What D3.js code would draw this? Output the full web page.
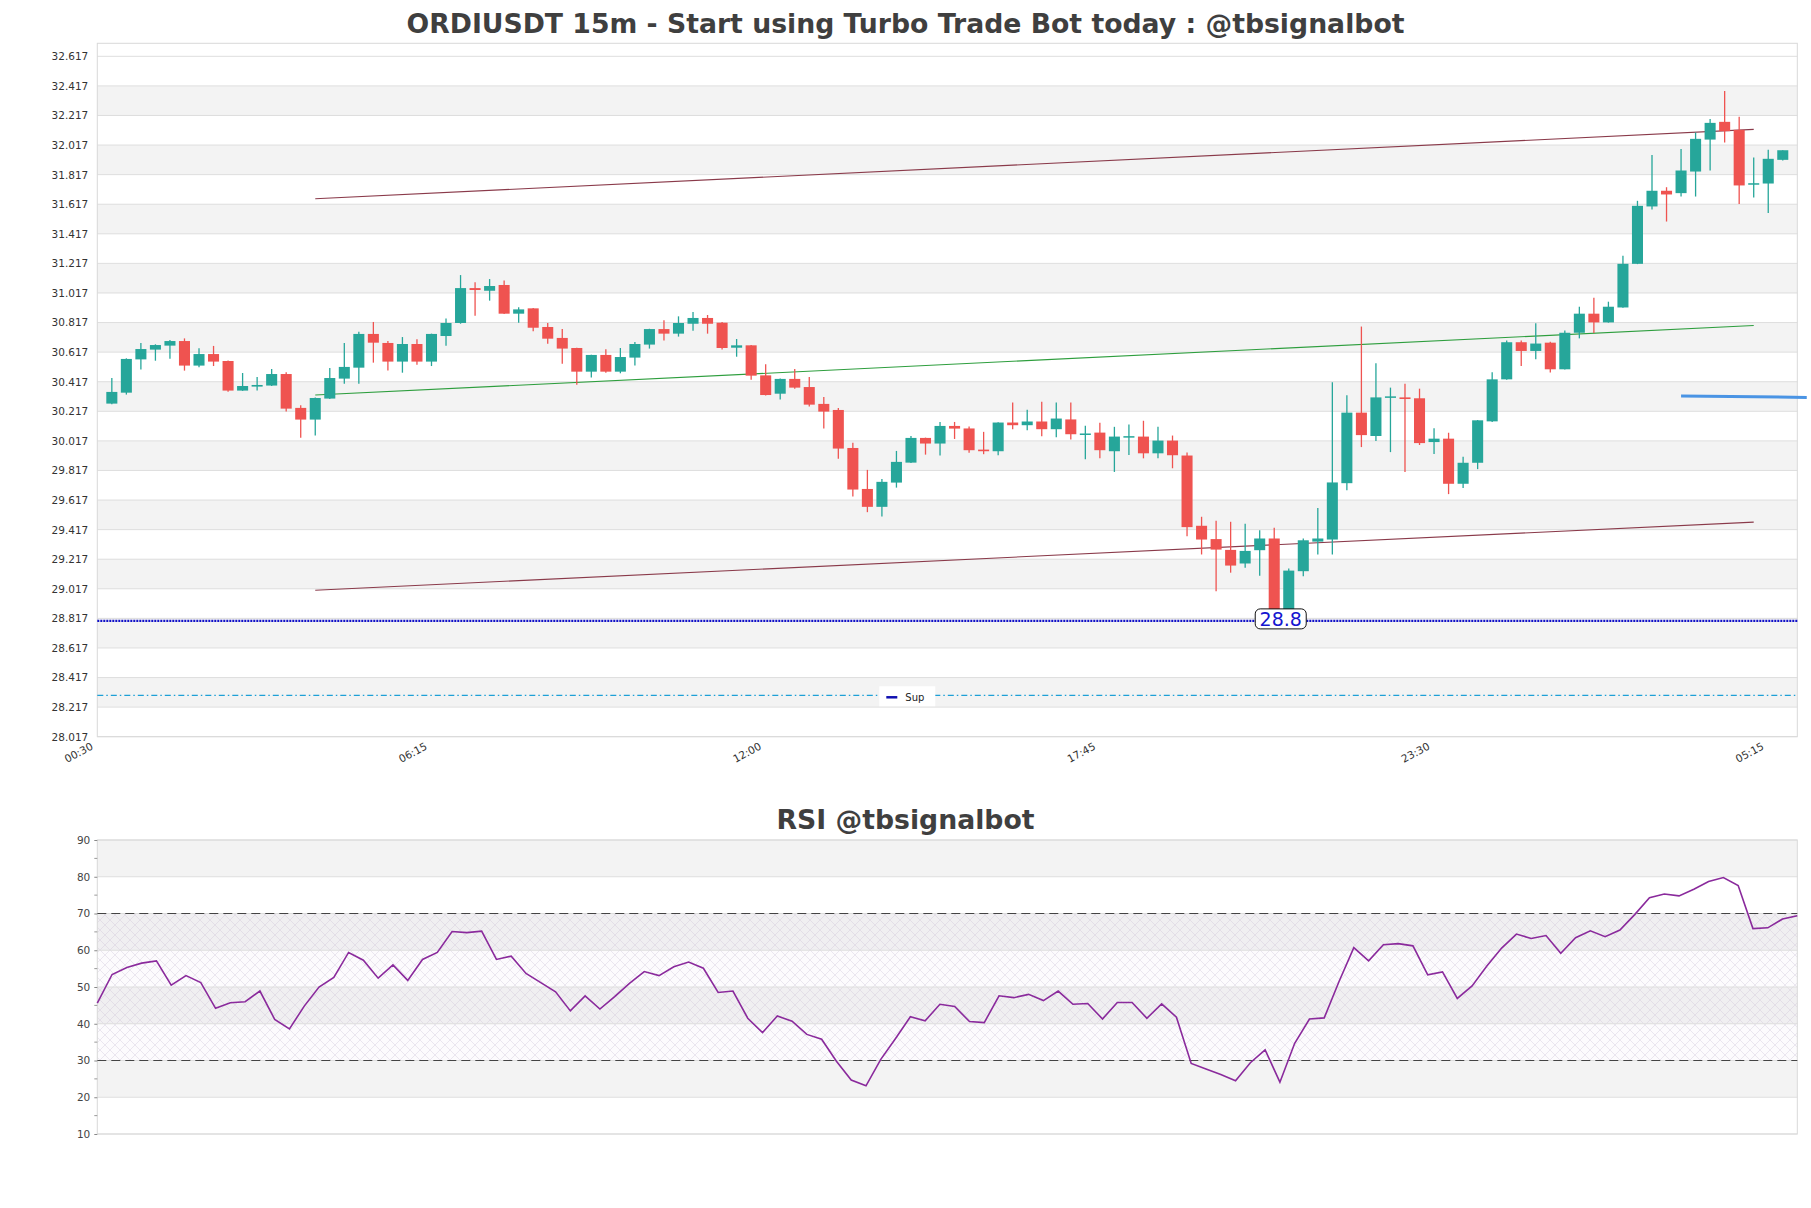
<!DOCTYPE html>
<html><head><meta charset="utf-8">
<script src="https://cdn.jsdelivr.net/npm/d3@7"></script>
<style>
html,body{margin:0;padding:0;background:#fff;}
svg{display:block;}
</style></head>
<body>
<svg id="chart" width="1811" height="1208"></svg>
<script>
// ---------------- DATA ----------------
const startTime = new Date(2024, 0, 1, 0, 45);
const stepMin = 15;
const openP = [30.269,30.343,30.568,30.634,30.661,30.692,30.526,30.604,30.557,30.357,30.384,30.391,30.469,30.240,30.161,30.303,30.438,30.512,30.740,30.679,
30.553,30.672,30.553,30.726,30.814,31.050,31.032,31.071,30.877,30.913,30.787,30.713,30.645,30.485,30.598,30.485,30.580,30.668,30.773,30.742,
30.809,30.848,30.816,30.647,30.663,30.460,30.336,30.436,30.381,30.267,30.226,29.969,29.692,29.571,29.735,29.870,30.037,29.999,30.118,30.101,
29.958,29.947,30.141,30.123,30.148,30.096,30.162,30.062,30.073,29.947,30.040,30.046,29.933,30.019,29.918,29.443,29.353,29.280,29.188,29.278,
29.357,28.860,29.136,29.336,29.350,29.731,30.208,30.050,30.311,30.311,30.305,30.009,30.032,29.727,29.869,30.149,30.433,30.684,30.625,30.681,
30.501,30.748,30.877,30.818,30.919,31.214,31.602,31.708,31.692,31.838,32.054,32.174,32.120,31.750,31.757,31.917];
const highP = [30.442,30.575,30.679,30.670,30.699,30.710,30.643,30.659,30.560,30.476,30.449,30.503,30.481,30.258,30.310,30.510,30.679,30.755,30.821,30.692,
30.719,30.704,30.742,30.845,31.138,31.089,31.111,31.102,30.920,30.915,30.814,30.773,30.647,30.600,30.636,30.645,30.686,30.775,30.832,30.859,
30.888,30.868,30.821,30.706,30.665,30.535,30.438,30.503,30.449,30.314,30.240,30.005,29.821,29.760,29.949,30.050,30.039,30.145,30.145,30.114,
30.078,30.143,30.277,30.227,30.281,30.277,30.277,30.119,30.139,30.112,30.128,30.153,30.112,30.053,29.938,29.504,29.477,29.470,29.457,29.413,
29.429,29.154,29.357,29.564,30.413,30.325,30.790,30.542,30.377,30.404,30.370,30.102,30.072,29.910,30.158,30.481,30.695,30.695,30.812,30.688,
30.764,30.924,30.985,30.958,31.269,31.640,31.949,31.732,31.991,32.102,32.194,32.383,32.208,31.933,31.985,31.982];
const lowP = [30.265,30.330,30.499,30.559,30.573,30.492,30.514,30.523,30.350,30.355,30.357,30.388,30.215,30.039,30.053,30.300,30.404,30.404,30.546,30.492,
30.478,30.532,30.523,30.661,30.809,30.863,30.965,30.875,30.816,30.758,30.674,30.539,30.397,30.445,30.478,30.474,30.526,30.641,30.695,30.722,
30.762,30.742,30.634,30.586,30.431,30.323,30.296,30.370,30.249,30.100,29.897,29.641,29.535,29.506,29.701,29.868,29.924,29.918,30.030,29.936,
29.927,29.920,30.096,30.089,30.049,30.042,30.026,29.893,29.899,29.807,29.922,29.899,29.899,29.832,29.373,29.249,29.000,29.126,29.160,29.106,
28.800,28.830,29.102,29.248,29.248,29.684,29.975,30.016,29.941,29.806,29.989,29.928,29.657,29.698,29.826,30.144,30.431,30.524,30.569,30.480,
30.499,30.710,30.746,30.816,30.917,31.212,31.581,31.500,31.669,31.669,31.845,32.034,31.618,31.663,31.557,31.913];
const closeP = [30.348,30.571,30.638,30.665,30.692,30.526,30.604,30.553,30.357,30.388,30.395,30.469,30.235,30.161,30.307,30.442,30.517,30.740,30.681,30.553,
30.672,30.553,30.740,30.814,31.050,31.037,31.064,30.877,30.906,30.782,30.708,30.641,30.485,30.598,30.485,30.584,30.672,30.773,30.742,30.814,
30.848,30.809,30.645,30.663,30.458,30.327,30.436,30.377,30.262,30.215,29.965,29.688,29.571,29.740,29.875,30.037,29.999,30.118,30.100,29.954,
29.947,30.141,30.123,30.148,30.096,30.168,30.062,30.067,29.954,30.046,30.049,29.933,30.019,29.920,29.434,29.350,29.282,29.174,29.273,29.357,
28.860,29.140,29.345,29.357,29.736,30.208,30.056,30.311,30.318,30.300,30.002,30.032,29.727,29.869,30.156,30.433,30.684,30.625,30.675,30.501,
30.748,30.877,30.818,30.924,31.214,31.606,31.708,31.683,31.845,32.059,32.167,32.111,31.744,31.759,31.924,31.982];
const rsiValues = [45.6,53.4,55.3,56.5,57.1,50.5,53.1,51.2,44.2,45.7,46.0,48.9,41.2,38.6,44.8,50.0,52.6,59.4,57.3,52.4,
56.0,51.8,57.5,59.4,65.1,64.8,65.2,57.5,58.4,53.7,51.2,48.7,43.5,47.6,44.0,47.4,51.0,54.2,53.1,55.5,
56.8,55.1,48.5,48.9,41.5,37.6,42.1,40.7,37.1,35.8,29.8,24.7,23.1,30.3,36.0,41.9,40.8,45.3,44.7,40.6,
40.3,47.6,47.1,48.0,46.3,48.9,45.3,45.5,41.3,45.8,45.8,41.5,45.4,41.8,29.2,27.7,26.2,24.5,29.4,32.9,
24.1,34.7,41.3,41.6,51.5,60.7,57.1,61.5,61.8,61.2,53.3,54.1,46.9,50.3,55.7,60.6,64.4,63.2,64.0,59.2,
63.4,65.3,63.7,65.5,69.7,74.3,75.3,74.8,76.6,78.7,79.8,77.6,65.9,66.1,68.5,69.4];
const priceTicks = [28.017,28.217,28.417,28.617,28.817,29.017,29.217,29.417,29.617,29.817,30.017,30.217,30.417,30.617,30.817,31.017,31.217,31.417,31.617,31.817,32.017,32.217,32.417,32.617];
const timeTickLabels = ["00:30","06:15","12:00","17:45","23:30","05:15"];
const rsiTicks = [10,20,30,40,50,60,70,80,90];
// trend lines: [startCandle, endCandle, startPrice, endPrice]
const upperLine = [14, 113, 31.654, 32.123];
const midLine = [14, 113, 30.327, 30.797];
const lowerLine = [14, 113, 29.007, 29.468];
const supportLevel = 28.8;
const dashLevel = 28.297;
const rightSeg = [108, 116.65, 30.320, 30.311];
const titleText = "ORDIUSDT 15m - Start using Turbo Trade Bot today : @tbsignalbot";
const rsiTitle = "RSI @tbsignalbot";

// ---------------- LAYOUT ----------------
const svg = d3.select("#chart");
const M = {l: 97.3, r: 1797.3, t: 43.3, b: 736.7};
const R = {l: 97.3, r: 1797.3, t: 840, b: 1134};
const ms = stepMin * 60000;
const times = openP.map((_, i) => new Date(+startTime + i * ms));
const tAt = i => new Date(+startTime + i * ms);
const first = times[0], last = times[times.length - 1];

const x = d3.scaleTime().domain([new Date(+first - ms), new Date(+last + ms)]).range([M.l, M.r]);
const y = d3.scaleLinear().domain([28.017, 32.705]).range([M.b, M.t]);
const xr = d3.scaleTime().domain([first, last]).range([R.l, R.r]);
const yr = d3.scaleLinear().domain([10, 90]).range([R.b, R.t]);

const font = "'DejaVu Sans', sans-serif";
const step = x(times[1]) - x(times[0]);
const bodyW = step * 0.76;

// defs
const defs = svg.append("defs");
const pat = defs.append("pattern").attr("id", "hatch").attr("width", 10).attr("height", 10)
  .attr("patternUnits", "userSpaceOnUse");
pat.append("path").attr("d", "M0,0L10,10M10,0L0,10").attr("stroke", "#cfc5d8").attr("stroke-width", 0.6).attr("opacity", 0.65);

// ---------------- MAIN PANEL ----------------
const g = svg.append("g");
for (let k = 1; k < priceTicks.length - 1; k += 2) {
  g.append("rect").attr("x", M.l).attr("width", M.r - M.l)
    .attr("y", y(priceTicks[k + 1])).attr("height", y(priceTicks[k]) - y(priceTicks[k + 1]))
    .attr("fill", "#f3f3f3");
}
g.append("g").selectAll("line").data(priceTicks).join("line")
  .attr("x1", M.l).attr("x2", M.r).attr("y1", d => y(d)).attr("y2", d => y(d))
  .attr("stroke", "#dedede").attr("stroke-width", 1);
g.append("rect").attr("x", M.l).attr("y", M.t).attr("width", M.r - M.l).attr("height", M.b - M.t)
  .attr("fill", "none").attr("stroke", "#d9d9d9");

const yAxis = d3.axisLeft(y).tickValues(priceTicks).tickFormat(d3.format(".3f")).tickSize(0).tickPadding(9);
const ya = g.append("g").attr("transform", `translate(${M.l},0)`).call(yAxis);
ya.select(".domain").remove();
ya.selectAll("text").attr("font-family", font).attr("font-size", 10.5).attr("fill", "#333");

const xTickVals = timeTickLabels.map((_, k) => new Date(+first - ms + k * 23 * ms));
const xa = g.append("g").attr("transform", `translate(0,${M.b})`)
  .call(d3.axisBottom(x).tickValues(xTickVals).tickFormat((d, i) => timeTickLabels[i]).tickSize(0));
xa.select(".domain").remove();
xa.selectAll("text").attr("font-family", font).attr("font-size", 10.5).attr("fill", "#333")
  .attr("text-anchor", "end").attr("dy", 0).attr("y", 0)
  .attr("transform", "translate(-4,12) rotate(-28)");

g.append("line").attr("x1", M.l).attr("x2", M.r).attr("y1", y(dashLevel)).attr("y2", y(dashLevel))
  .attr("stroke", "#1ea0d6").attr("stroke-width", 1.3).attr("stroke-dasharray", "6,3,1.5,3");

function trend(arr, color, w) {
  g.append("line").attr("x1", x(tAt(arr[0]))).attr("x2", x(tAt(arr[1])))
    .attr("y1", y(arr[2])).attr("y2", y(arr[3])).attr("stroke", color).attr("stroke-width", w);
}
trend(upperLine, "#8a3a4a", 1.1);
trend(lowerLine, "#8a3a4a", 1.1);
trend(midLine, "#2e9e3e", 1.1);

const cg = g.append("g");
const idx = d3.range(openP.length);
cg.selectAll("line.wick").data(idx).join("line").attr("class", "wick")
  .attr("x1", i => x(times[i])).attr("x2", i => x(times[i]))
  .attr("y1", i => y(highP[i])).attr("y2", i => y(lowP[i]))
  .attr("stroke", i => closeP[i] >= openP[i] ? "#26a69a" : "#ef5350").attr("stroke-width", 1.3);
cg.selectAll("rect.body").data(idx).join("rect").attr("class", "body")
  .attr("x", i => x(times[i]) - bodyW / 2).attr("width", bodyW)
  .attr("y", i => y(Math.max(openP[i], closeP[i])))
  .attr("height", i => Math.max(1.5, Math.abs(y(openP[i]) - y(closeP[i]))))
  .attr("fill", i => closeP[i] >= openP[i] ? "#26a69a" : "#ef5350");

g.append("line").attr("x1", M.l).attr("x2", M.r).attr("y1", y(supportLevel)).attr("y2", y(supportLevel))
  .attr("stroke", "#1010c8").attr("stroke-width", 2.2).attr("stroke-dasharray", "2,1");
const lowIdx = d3.minIndex(lowP);
const lx = x(times[lowIdx]) + 6.5, ly = y(supportLevel) - 2;
g.append("rect").attr("x", lx - 25.5).attr("y", ly - 10).attr("width", 51).attr("height", 20)
  .attr("rx", 5).attr("fill", "#fff").attr("stroke", "#111").attr("stroke-width", 1);
g.append("text").attr("x", lx).attr("y", ly).attr("dy", "0.37em").attr("text-anchor", "middle")
  .attr("font-family", font).attr("font-size", 19).attr("fill", "#1515d0").text(supportLevel.toFixed(1));

g.append("line").attr("x1", x(tAt(rightSeg[0]))).attr("x2", x(tAt(rightSeg[1])))
  .attr("y1", y(rightSeg[2])).attr("y2", y(rightSeg[3]))
  .attr("stroke", "#4a94e4").attr("stroke-width", 3);

const lgx = (M.l + M.r) / 2 - 68, lgy = y(dashLevel);
g.append("rect").attr("x", lgx).attr("y", lgy - 9).attr("width", 56).attr("height", 20).attr("fill", "#fff");
g.append("line").attr("x1", lgx + 7).attr("x2", lgx + 18).attr("y1", lgy + 2).attr("y2", lgy + 2)
  .attr("stroke", "#1010b0").attr("stroke-width", 2.5);
g.append("text").attr("x", lgx + 26).attr("y", lgy + 2).attr("dy", "0.35em")
  .attr("font-family", font).attr("font-size", 10).attr("fill", "#222").text("Sup");

svg.append("text").attr("x", 905.5).attr("y", 33).attr("text-anchor", "middle")
  .attr("font-family", font).attr("font-weight", "bold").attr("font-size", 26.7)
  .attr("fill", "#3f3f3f").text(titleText);

// ---------------- RSI PANEL ----------------
const rg = svg.append("g");
[[20,30],[40,50],[60,70],[80,90]].forEach(b => {
  rg.append("rect").attr("x", R.l).attr("width", R.r - R.l).attr("y", yr(b[1])).attr("height", yr(b[0]) - yr(b[1]))
    .attr("fill", "#f3f3f3");
});
rg.append("rect").attr("x", R.l).attr("width", R.r - R.l).attr("y", yr(70)).attr("height", yr(30) - yr(70))
  .attr("fill", "rgba(200,180,215,0.05)");
rg.append("rect").attr("x", R.l).attr("width", R.r - R.l).attr("y", yr(70)).attr("height", yr(30) - yr(70))
  .attr("fill", "url(#hatch)");
rg.append("g").selectAll("line").data(rsiTicks).join("line")
  .attr("x1", R.l).attr("x2", R.r).attr("y1", d => yr(d)).attr("y2", d => yr(d))
  .attr("stroke", "#dedede");
rg.append("rect").attr("x", R.l).attr("y", R.t).attr("width", R.r - R.l).attr("height", R.b - R.t)
  .attr("fill", "none").attr("stroke", "#d9d9d9");
[30, 70].forEach(v => {
  rg.append("line").attr("x1", R.l).attr("x2", R.r).attr("y1", yr(v)).attr("y2", yr(v))
    .attr("stroke", "#444").attr("stroke-width", 1.2).attr("stroke-dasharray", "9,5");
});
const ra = rg.append("g").attr("transform", `translate(${R.l},0)`)
  .call(d3.axisLeft(yr).tickValues(rsiTicks).tickSize(3).tickPadding(4));
ra.select(".domain").remove();
ra.selectAll("line").attr("stroke", "#888");
ra.selectAll("text").attr("font-family", font).attr("font-size", 10.5).attr("fill", "#444");
const minor = d3.range(15, 90, 10);
rg.append("g").selectAll("line").data(minor).join("line")
  .attr("x1", R.l - 3).attr("x2", R.l).attr("y1", d => yr(d)).attr("y2", d => yr(d)).attr("stroke", "#999");

rg.append("path").datum(rsiValues)
  .attr("d", d3.line().x((d, i) => xr(times[i])).y(d => yr(d)))
  .attr("fill", "none").attr("stroke", "#8a2a9c").attr("stroke-width", 1.6);

svg.append("text").attr("x", 905.5).attr("y", 829).attr("text-anchor", "middle")
  .attr("font-family", font).attr("font-weight", "bold").attr("font-size", 26.7)
  .attr("fill", "#3f3f3f").text(rsiTitle);
</script>
</body></html>
